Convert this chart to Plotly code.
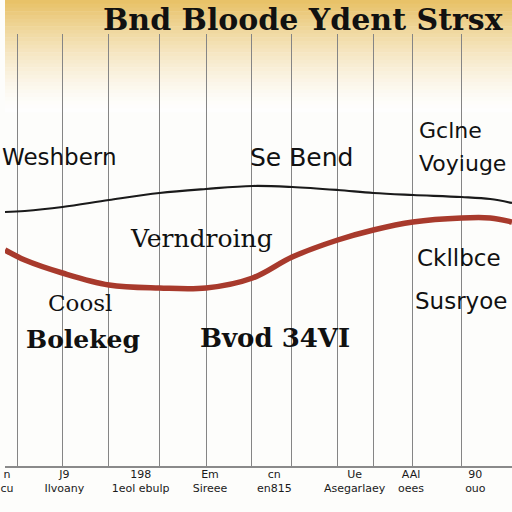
import plotly.graph_objects as go

# ---- data ----
x_pos = [0, 20, 58, 105, 156, 203, 250, 290, 336, 372, 412, 461, 490, 512]
black_line = [254, 255, 259, 266, 273, 277, 280, 279, 276, 273, 271, 269, 267, 263]
red_line = [216, 206, 193, 181, 178, 178, 188, 209, 226, 236, 244, 248, 248, 244]

grid_x = [13, 58, 105, 156, 203, 249, 289, 336, 372, 412, 461]

tick_x = [2, 60, 137, 207, 272, 353, 410, 475]
tick_labels = ["n<br>cu", "J9<br>Ilvoany", "198<br>1eol ebulp", "Em<br>Sireee",
               "cn<br>en815", "Ue<br>Asegarlaey", "AAl<br>oees", "90<br>ouo"]

title_text = "Bnd Bloode Ydent Strsx"

labels = [
    # text, x, y, size, font, bold
    ("Weshbern", 0, 309, 23, "DejaVu Sans", False),
    ("Se Bend", 245, 309, 25, "DejaVu Sans", False),
    ("Gclne", 416, 336, 22, "DejaVu Sans", False),
    ("Voyiuge", 416, 303, 22, "DejaVu Sans", False),
    ("Verndroing", 124, 228, 25, "DejaVu Serif", False),
    ("Ckllbce", 414, 208, 23, "DejaVu Sans", False),
    ("Coosl", 41, 163, 23, "DejaVu Serif", False),
    ("Susryoe", 412, 165, 23, "DejaVu Sans", False),
    ("Bolekeg", 19, 127, 25, "DejaVu Serif", True),
    ("Bvod 34VI", 195, 128, 26, "DejaVu Serif", True),
]

W, H = 512, 512
MT, MB = 34, 46
PH = H - MT - MB

fig = go.Figure()

# gradient band at the top (decoration)
n = 30
band = 112
top_c = (232, 194, 104)
for i in range(n):
    t = i / n
    a = (1 - t) ** 1.5
    r = int(255 - (255 - top_c[0]) * a)
    g = int(255 - (255 - top_c[1]) * a)
    b = int(255 - (255 - top_c[2]) * a)
    py0 = i * band / n
    py1 = (i + 1) * band / n + 0.5
    fig.add_shape(type="rect", xref="paper", yref="paper",
                  x0=0, x1=1,
                  y0=1 - (py1 - MT) / PH, y1=1 - (py0 - MT) / PH,
                  fillcolor=f"rgb({r},{g},{b})", line_width=0, layer="below")

fig.add_trace(go.Scatter(x=x_pos, y=black_line, mode="lines",
                         line=dict(color="#1a1a1a", width=2.2, shape="spline"), hoverinfo="skip"))
fig.add_trace(go.Scatter(x=x_pos, y=red_line, mode="lines",
                         line=dict(color="#a83a2c", width=5.5, shape="spline"), hoverinfo="skip"))
# invisible helper trace for the label axis
fig.add_trace(go.Scatter(x=[tick_x[0]], y=[0], xaxis="x2", mode="markers",
                         marker=dict(opacity=0), hoverinfo="skip"))

for text, x, y, size, font, bold in labels:
    fig.add_annotation(x=x, y=y, text=f"<b>{text}</b>" if bold else text, showarrow=False,
                       xanchor="left", yanchor="middle", xshift=-5 if x == 0 else 0,
                       font=dict(family=font, size=size, color="#111111"))

fig.add_annotation(xref="paper", yref="paper", x=98 / W, y=1 + (MT - 20) / PH,
                   yanchor="middle", xanchor="left", borderpad=0,
                   text=f"<b>{title_text}</b>", showarrow=False,
                   font=dict(family="DejaVu Serif", size=30, color="#111111"))

fig.update_layout(
    width=W, height=H,
    margin=dict(l=0, r=0, t=MT, b=MB),
    paper_bgcolor="#fdfdfb", plot_bgcolor="rgba(0,0,0,0)",
    showlegend=False,
    xaxis=dict(range=[0, 512], tickmode="array", tickvals=grid_x, showticklabels=False,
               showgrid=True, gridcolor="#858585", gridwidth=1.4, zeroline=False, ticks="",
               showline=True, linecolor="#8a8a8a", linewidth=2),
    xaxis2=dict(range=[0, 512], overlaying="x", side="bottom", tickmode="array",
                tickvals=tick_x, ticktext=tick_labels, showgrid=False, zeroline=False, ticks="",
                ticklabeloverflow="allow",
                tickfont=dict(family="DejaVu Sans", size=11, color="#1a1a1a")),
    yaxis=dict(range=[0, PH], showgrid=False, zeroline=False, showticklabels=False, ticks=""),
)

fig.write_html("out.html", config={"displayModeBar": False},
               post_script="document.body.style.margin='0';")
